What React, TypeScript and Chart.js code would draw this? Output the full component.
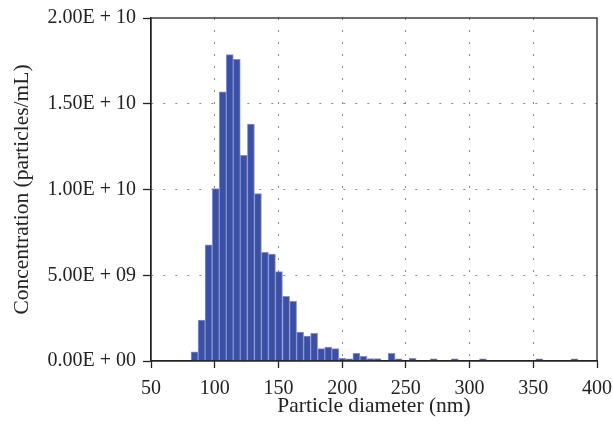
import React, { useEffect, useRef } from "react";
import { Chart, registerables } from "chart.js";

Chart.register(...registerables);

// Bin centres (nm) of the non-empty histogram bars
const diameters = [
  84.2, 89.7, 95.2, 100.8, 106.3, 111.8, 117.3, 122.8, 128.4, 133.9,
  139.4, 144.9, 150.4, 156.0, 161.5, 167.0, 172.5, 178.0, 183.6, 189.1,
  194.6, 200.1, 205.6, 211.2, 216.7, 222.2, 227.7, 238.8, 244.3, 255.3,
  271.9, 288.4, 310.5, 354.7, 382.3,
];

// Concentration (particles/mL)
const concentrations = [
  0.54e9, 2.39e9, 6.78e9, 10.05e9, 15.7e9, 17.86e9, 17.59e9, 11.99e9, 13.82e9, 9.76e9,
  6.33e9, 6.23e9, 5.21e9, 3.77e9, 3.48e9, 1.68e9, 1.46e9, 1.61e9, 0.72e9, 0.81e9,
  0.72e9, 0.16e9, 0.13e9, 0.45e9, 0.27e9, 0.14e9, 0.14e9, 0.45e9, 0.13e9, 0.15e9,
  0.13e9, 0.13e9, 0.13e9, 0.13e9, 0.13e9,
];

const xTicks = [50, 100, 150, 200, 250, 300, 350, 400];
const yTicks = [0, 5e9, 1e10, 1.5e10, 2e10];

const xTitle = "Particle diameter (nm)";
const yTitle = "Concentration (particles/mL)";

function formatSci(v: number): string {
  const [mant, exp] = v.toExponential(2).split("e");
  const n = parseInt(exp, 10);
  const sign = n < 0 ? "-" : "+";
  const abs = Math.abs(n).toString().padStart(2, "0");
  return `${mant}E ${sign} ${abs}`;
}

const FONT = "'Liberation Serif', 'Times New Roman', serif";

const framePlugin = {
  id: "frame",
  afterDatasetsDraw(chart: any) {
    const { ctx, chartArea } = chart;
    ctx.save();
    ctx.strokeStyle = "#222";
    ctx.lineWidth = 1.3;
    ctx.strokeRect(chartArea.left, chartArea.top, chartArea.right - chartArea.left, chartArea.bottom - chartArea.top);
    ctx.restore();
  },
};

export default function App() {
  const ref = useRef<HTMLCanvasElement | null>(null);

  useEffect(() => {
    if (!ref.current) return;
    const chart = new Chart(ref.current, {
      type: "bar",
      data: {
        datasets: [
          {
            data: diameters.map((d, i) => ({ x: d, y: concentrations[i] })),
            backgroundColor: "#3a50a6",
            borderColor: "#8790cc",
            borderWidth: 1,
            borderSkipped: "bottom",
            barPercentage: 1,
            categoryPercentage: 1,
          },
        ],
      },
      options: {
        animation: false,
        responsive: true,
        maintainAspectRatio: false,
        layout: { padding: { top: 18, right: 16, left: 0, bottom: 0 } },
        plugins: { legend: { display: false }, tooltip: { enabled: false } },
        scales: {
          x: {
            type: "linear",
            min: 50,
            max: 400,
            offset: false,
            afterFit: (s: any) => {
              s.height = 65;
              s.paddingLeft = 0;
              s.paddingRight = 0;
            },
            afterBuildTicks: (s: any) => {
              s.ticks = xTicks.map((v) => ({ value: v }));
            },
            ticks: {
              color: "#222",
              font: { family: FONT, size: 20 },
              padding: 9,
              maxRotation: 0,
              autoSkip: false,
            },
            grid: {
              offset: false,
              color: (c: any) => (c.tick && (c.tick.value === 50 || c.tick.value === 400) ? "rgba(0,0,0,0)" : "#8a8a8a"),
              lineWidth: 1,
              tickLength: 7,
              tickColor: "#222",
              tickWidth: 1.3,
            },
            border: { display: true, color: "#222", width: 1.3, dash: [2, 10] },
            title: {
              display: true,
              text: xTitle,
              color: "#222",
              font: { family: FONT, size: 21.5 },
              padding: { top: 0, bottom: 7 },
            },
          },
          y: {
            min: 0,
            max: 2e10,
            afterFit: (s: any) => {
              s.width = 151;
              s.paddingTop = 0;
              s.paddingBottom = 0;
            },
            afterBuildTicks: (s: any) => {
              s.ticks = yTicks.map((v) => ({ value: v }));
            },
            ticks: {
              color: "#222",
              font: { family: FONT, size: 20 },
              padding: 7,
              callback: (v: any) => formatSci(Number(v)),
            },
            grid: {
              color: (c: any) => (c.tick && (c.tick.value === 0 || c.tick.value === 2e10) ? "rgba(0,0,0,0)" : "#8a8a8a"),
              lineWidth: 1,
              tickLength: 8,
              tickColor: "#222",
              tickWidth: 1.3,
            },
            border: { display: true, color: "#222", width: 1.3, dash: [2, 10] },
            title: {
              display: true,
              text: yTitle,
              color: "#222",
              font: { family: FONT, size: 21.5 },
              padding: { top: 9, bottom: 0 },
            },
          },
        },
      },
      plugins: [framePlugin],
    });
    return () => chart.destroy();
  }, []);

  return (
    <div style={{ position: "fixed", left: 0, top: 0, width: 613, height: 426, background: "#fff" }}>
      <canvas ref={ref} />
    </div>
  );
}
